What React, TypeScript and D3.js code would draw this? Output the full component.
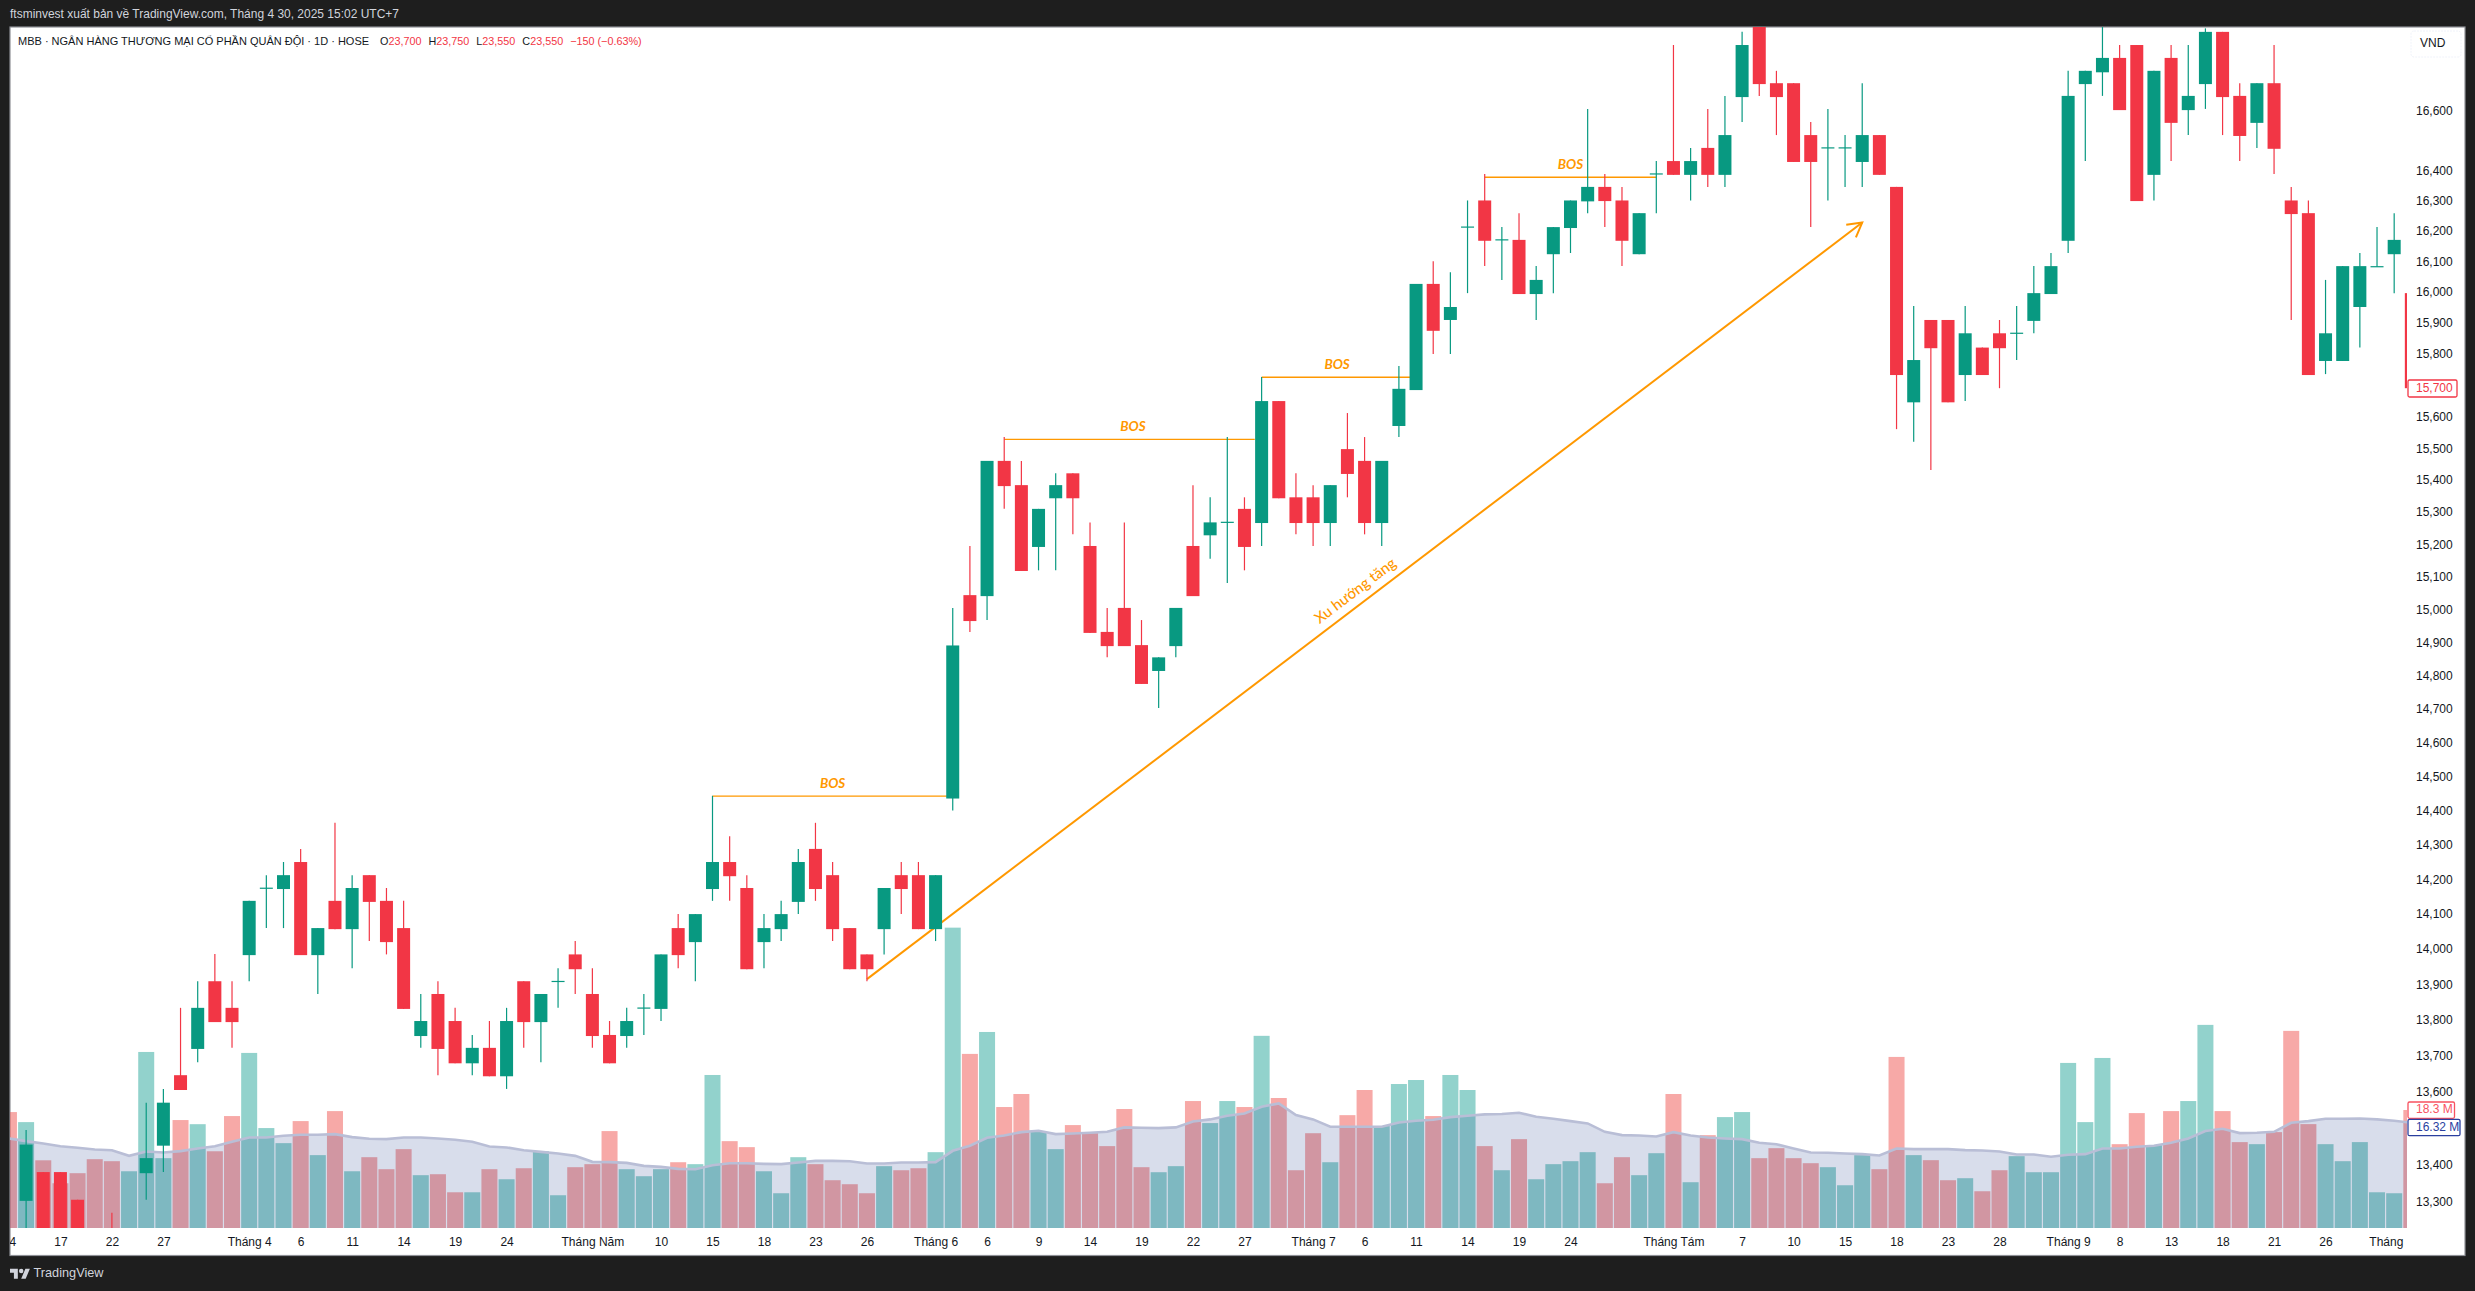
// App.tsx - MBB daily candles with volume pane
import React, { useEffect, useRef } from 'react';
import * as d3 from 'd3';

const opens = [
  13180, 13302, 13380, 13380, 13305, 13150, 13180, 13150, 13377, 13452,
  13646, 13719, 13909, 13834, 13983, 14175, 14172, 14250, 13983, 14138,
  14057, 14212, 14138, 14060, 13755, 13873, 13797, 13679, 13722, 13643,
  13909, 13794, 13909, 13985, 13873, 13758, 13755, 13834, 13831, 14060,
  14020, 14172, 14250, 14175, 14020, 14057, 14135, 14288, 14212, 14060,
  13985, 14057, 14212, 14212, 14057, 14435, 15044, 15041, 15460, 15384,
  15192, 15343, 15421, 15195, 14932, 15005, 14892, 14814, 14889, 15195,
  15228, 15268, 15310, 15266, 15649, 15346, 15346, 15266, 15497, 15460,
  15266, 15570, 15684, 16026, 15909, 16212, 16300, 16170, 16170, 15993,
  16123, 16209, 16297, 16345, 16300, 16123, 16388, 16431, 16385, 16475,
  16385, 16646, 16900, 16693, 16693, 16518, 16475, 16475, 16428, 16518,
  16345, 15645, 15909, 15909, 15732, 15820, 15866, 15866, 15906, 15993,
  16167, 16690, 16730, 16779, 16823, 16385, 16779, 16602, 16690, 16868,
  16650, 16559, 16693, 16300, 16258, 15777, 15777, 15951, 16082, 16123,
  15996,
];
const highs = [
  13200, 13495, 13380, 13380, 13305, 13180, 13270, 13190, 13570, 13608,
  13834, 13909, 13986, 13909, 14138, 14212, 14250, 14288, 14060, 14364,
  14212, 14212, 14175, 14138, 13873, 13909, 13834, 13758, 13797, 13834,
  13909, 13873, 13946, 14023, 13946, 13797, 13834, 13873, 13985, 14100,
  14100, 14443, 14325, 14212, 14100, 14138, 14288, 14364, 14250, 14060,
  13985, 14175, 14250, 14250, 14212, 15005, 15195, 15460, 15535, 15460,
  15310, 15421, 15421, 15268, 15005, 15268, 14968, 14855, 15005, 15384,
  15346, 15535, 15346, 15726, 15649, 15421, 15384, 15384, 15611, 15535,
  15460, 15761, 16026, 16100, 16064, 16300, 16388, 16212, 16258, 16084,
  16212, 16300, 16606, 16388, 16345, 16258, 16431, 16823, 16475, 16606,
  16650, 16868, 16950, 16735, 16693, 16562, 16606, 16518, 16693, 16518,
  16345, 15954, 15909, 15909, 15954, 15820, 15909, 15954, 16084, 16127,
  16735, 16735, 16900, 16823, 16823, 16735, 16823, 16823, 16880, 16868,
  16693, 16693, 16823, 16345, 16300, 16039, 16084, 16127, 16212, 16258,
  15996,
];
const lows = [
  13100, 13200, 13100, 13100, 13100, 13100, 13100, 13120, 13305, 13380,
  13605, 13682, 13794, 13722, 13909, 14060, 14060, 13983, 13873, 14057,
  13946, 14023, 13985, 13831, 13722, 13646, 13679, 13646, 13643, 13608,
  13722, 13682, 13834, 13873, 13722, 13679, 13722, 13758, 13797, 13946,
  13909, 14138, 14138, 13943, 13946, 14023, 14100, 14138, 14023, 13943,
  13909, 13985, 14100, 14057, 14023, 14400, 14932, 14968, 15310, 15118,
  15120, 15120, 15231, 14929, 14855, 14889, 14775, 14703, 14855, 15041,
  15156, 15081, 15120, 15195, 15343, 15231, 15195, 15195, 15346, 15231,
  15195, 15535, 15684, 15799, 15799, 15996, 16084, 16039, 15993, 15909,
  15996, 16127, 16258, 16212, 16084, 16123, 16258, 16385, 16300, 16345,
  16345, 16562, 16650, 16518, 16428, 16212, 16300, 16345, 16345, 16385,
  15560, 15520, 15431, 15645, 15649, 15732, 15690, 15780, 15866, 15993,
  16127, 16431, 16650, 16602, 16298, 16300, 16431, 16518, 16606, 16518,
  16431, 16475, 16388, 15909, 15732, 15735, 15777, 15820, 16082, 15996,
  15690,
];
const closes = [
  13120, 13455, 13150, 13150, 13150, 13120, 13120, 13170, 13418, 13570,
  13605, 13834, 13794, 13794, 14138, 14176, 14212, 13983, 14060, 14057,
  14175, 14135, 14020, 13831, 13797, 13719, 13679, 13722, 13643, 13797,
  13794, 13873, 13910, 13943, 13755, 13679, 13797, 13835, 13985, 13983,
  14100, 14250, 14209, 13943, 14060, 14100, 14250, 14172, 14057, 13943,
  13943, 14175, 14172, 14057, 14212, 14891, 14965, 15460, 15381, 15118,
  15310, 15384, 15343, 14929, 14889, 14889, 14775, 14855, 15005, 15041,
  15268, 15270, 15192, 15649, 15343, 15266, 15266, 15384, 15419, 15266,
  15460, 15688, 16026, 15874, 15951, 16214, 16167, 16172, 15993, 16039,
  16212, 16300, 16345, 16298, 16167, 16258, 16390, 16385, 16431, 16385,
  16518, 16823, 16690, 16646, 16428, 16428, 16477, 16477, 16518, 16385,
  15732, 15780, 15818, 15645, 15866, 15732, 15818, 15868, 15996, 16084,
  16650, 16735, 16779, 16602, 16298, 16735, 16559, 16650, 16868, 16646,
  16515, 16693, 16472, 16255, 15732, 15866, 16084, 16084, 16084, 16170,
  15690,
];
// volume, millions of shares
const volumes = [
  17.98, 16.42, 10.5, 6.94, 8.5, 10.67, 10.36, 8.8, 27.3, 10.83,
  16.74, 16.1, 11.9, 17.36, 27.15, 15.5, 13.16, 16.58, 11.3, 18.13,
  8.8, 10.98, 9.12, 12.23, 8.19, 8.34, 5.54, 5.54, 9.12, 7.56,
  9.27, 11.92, 5.08, 9.43, 9.9, 15.03, 9.12, 8.03, 9.12, 10.2,
  9.9, 23.73, 13.47, 12.54, 8.8, 5.39, 10.98, 9.9, 7.41, 6.79,
  5.39, 9.59, 8.96, 9.27, 11.76, 46.58, 27.0, 30.4, 18.76, 20.78,
  15.03, 12.23, 15.96, 14.7, 12.7, 18.45, 9.43, 8.65, 9.59, 19.69,
  16.27, 19.69, 18.76, 29.8, 20.16, 8.96, 14.7, 10.2, 17.5, 21.4,
  15.8, 22.33, 22.95, 17.36, 23.73, 21.4, 12.7, 8.96, 13.78, 7.56,
  9.9, 10.36, 11.76, 6.94, 10.98, 8.19, 11.6, 20.78, 7.1, 14.4,
  17.2, 17.98, 10.83, 12.38, 10.83, 10.05, 9.43, 6.63, 11.3, 9.12,
  26.53, 11.3, 10.52, 7.41, 7.72, 5.7, 8.96, 11.14, 8.65, 8.65,
  25.6, 16.42, 26.37, 13.0, 17.82, 12.85, 18.13, 19.69, 31.5, 18.13,
  13.32, 13.0, 14.87, 30.57, 16.11, 13.0, 10.36, 13.32, 5.54, 5.39,
  18.3,
];
const volumeMA = [
  13.89, 13.47, 13.11, 12.69, 12.44, 12.18, 12.07, 11.19, 11.87, 11.71,
  11.92, 12.33, 12.69, 13.37, 14.04, 14.04, 14.3, 14.46, 14.46, 14.56,
  14.09, 13.83, 13.78, 14.04, 14.04, 13.89, 13.68, 13.37, 12.64, 12.49,
  12.07, 11.81, 11.55, 11.19, 10.26, 10.21, 10.1, 9.64, 9.48, 9.17,
  9.12, 9.74, 10.05, 10.05, 9.95, 9.9, 10.16, 10.41, 10.41, 10.36,
  10.0, 10.0, 10.16, 10.16, 10.21, 11.97, 12.75, 13.99, 14.35, 14.87,
  15.08, 14.56, 14.66, 14.77, 14.92, 15.6, 15.54, 15.49, 15.6, 16.53,
  16.84, 17.41, 17.77, 18.81, 19.33, 17.51, 16.84, 15.7, 15.7, 15.7,
  15.7, 16.37, 16.63, 16.79, 17.2, 17.41, 17.62, 17.67, 17.88, 17.25,
  16.94, 16.58, 16.22, 14.92, 14.4, 14.35, 14.2, 14.87, 14.35, 14.04,
  13.89, 13.78, 13.21, 13.0, 12.33, 11.71, 11.66, 11.55, 11.45, 11.24,
  12.33, 12.23, 12.23, 12.23, 12.07, 12.02, 11.87, 11.4, 11.4, 11.04,
  11.35, 11.45, 12.33, 12.33, 12.59, 12.75, 13.21, 13.89, 15.03, 15.39,
  14.72, 14.77, 14.92, 16.32, 16.58, 16.94, 16.94, 16.99, 16.84, 16.63,
  16.32,
];

const priceTicks = [
  16600, 16400, 16300, 16200, 16100, 16000, 15900, 15800, 15600, 15500, 15400, 15300,
  15200, 15100, 15000, 14900, 14800, 14700, 14600, 14500, 14400, 14300, 14200, 14100,
  14000, 13900, 13800, 13700, 13600, 13400, 13300,
];
const timeTickBars = [
  0, 3, 6, 9, 14, 17, 20, 23, 26, 29, 34, 38, 41, 44, 47, 50, 54, 57, 60, 63, 66, 69, 72,
  76, 79, 82, 85, 88, 91, 97, 101, 104, 107, 110, 113, 116, 120, 123, 126, 129, 132, 135, 139,
];
const timeTickLabels = [
  '14', '17', '22', '27', 'Tháng 4', '6', '11', '14', '19', '24', 'Tháng Năm', '10', '15', '18', '23',
  '26', 'Tháng 6', '6', '9', '14', '19', '22', '27', 'Tháng 7', '6', '11', '14', '19', '24', 'Tháng Tám',
  '7', '10', '15', '18', '23', '28', 'Tháng 9', '8', '13', '18', '21', '26', 'Tháng 10',
];

// break of structure levels: start bar, end bar, price, bar of the label
const bosStart = [41, 58, 73, 86];
const bosEnd = [54.66, 72.6, 81.65, 96];
const bosPrice = [14442, 15528, 15725, 16377];
const bosLabelBar = [48, 65.5, 77.4, 91];

const trendBars = [50, 108];
const trendPrices = [13915, 16227];

// legend: letter, value
const ohlcLetters = ['O', 'H', 'L', 'C'];
const ohlcValues = ['23,700', '23,750', '23,550', '23,550'];

const WIDTH = 2475, HEIGHT = 1291;
const GREEN = '#089981', RED = '#f23645', ORANGE = '#ff9800';
const FONT = '"Liberation Sans", Arial, sans-serif';
const plot = { left: 10, right: 2407, top: 27, bottom: 1228, frameRight: 2465, frameBottom: 1255.5 };
const BAR_STEP = 17.16, BAR_ZERO = 8.94;

const App: React.FC = () => {
  const svgRef = useRef<SVGSVGElement>(null);

  useEffect(() => {
    if (!svgRef.current) return;
    const svg = d3.select(svgRef.current);
    svg.selectAll('*').remove();

    const x = d3.scaleLinear().domain([0, 140]).range([BAR_ZERO, BAR_ZERO + 140 * BAR_STEP]);
    const y = d3.scaleLog().domain([13300, 16600]).range([1201.6, 110.7]);
    const v = d3.scaleLinear().domain([0, 18.3]).range([plot.bottom, 1110]);

    // page
    svg.append('rect').attr('width', WIDTH).attr('height', HEIGHT).attr('fill', '#1e1e1e');
    svg.append('rect')
      .attr('x', plot.left).attr('y', plot.top)
      .attr('width', plot.frameRight - plot.left).attr('height', plot.frameBottom - plot.top)
      .attr('fill', '#fff').attr('stroke', '#8f9197').attr('stroke-width', 1.2);

    const defs = svg.append('defs');
    defs.append('clipPath').attr('id', 'pane').append('rect')
      .attr('x', plot.left).attr('y', plot.top)
      .attr('width', plot.right - plot.left).attr('height', plot.bottom - plot.top);
    defs.append('clipPath').attr('id', 'timeAxis').append('rect')
      .attr('x', plot.left).attr('y', plot.bottom)
      .attr('width', plot.right - plot.left).attr('height', plot.frameBottom - plot.bottom);

    const pane = svg.append('g').attr('clip-path', 'url(#pane)');
    const bars = d3.range(opens.length);
    const isUp = (i: number) => closes[i] >= opens[i];

    // volume
    pane.append('g').selectAll('rect').data(bars).join('rect')
      .attr('x', i => x(i) - 8)
      .attr('width', 16)
      .attr('y', i => v(volumes[i]))
      .attr('height', i => plot.bottom - v(volumes[i]))
      .attr('fill', i => (isUp(i) ? '#26a69a' : '#ef5350'))
      .attr('fill-opacity', 0.5);

    const maArea = d3.area<number>().x(i => x(i)).y0(plot.bottom).y1(i => v(volumeMA[i]));
    const maLine = d3.line<number>().x(i => x(i)).y(i => v(volumeMA[i]));
    pane.append('path').attr('d', maArea(bars)).attr('fill', '#25408f').attr('fill-opacity', 0.18);
    pane.append('path').attr('d', maLine(bars)).attr('fill', 'none')
      .attr('stroke', '#b9bed6').attr('stroke-width', 2.6);

    // drawings sit under the candles
    bosStart.forEach((b, k) => {
      pane.append('line')
        .attr('x1', x(b)).attr('x2', x(bosEnd[k]))
        .attr('y1', y(bosPrice[k])).attr('y2', y(bosPrice[k]))
        .attr('stroke', ORANGE).attr('stroke-width', 1.3);
    });
    defs.append('marker').attr('id', 'arrow')
      .attr('viewBox', '-18 -12 20 24').attr('markerUnits', 'userSpaceOnUse')
      .attr('markerWidth', 20).attr('markerHeight', 24)
      .attr('refX', 0).attr('refY', 0).attr('orient', 'auto')
      .append('path').attr('d', 'M-14,-8 L0,0 L-14,8')
      .attr('fill', 'none').attr('stroke', ORANGE).attr('stroke-width', 2);
    pane.append('line')
      .attr('x1', x(trendBars[0])).attr('y1', y(trendPrices[0]))
      .attr('x2', x(trendBars[1])).attr('y2', y(trendPrices[1]))
      .attr('stroke', ORANGE).attr('stroke-width', 2)
      .attr('marker-end', 'url(#arrow)');

    // candles
    const candles = pane.append('g');
    candles.selectAll('line').data(bars).join('line')
      .attr('x1', i => x(i)).attr('x2', i => x(i))
      .attr('y1', i => y(highs[i])).attr('y2', i => y(lows[i]))
      .attr('stroke', i => (isUp(i) ? GREEN : RED)).attr('stroke-width', 1.2);
    candles.selectAll('rect').data(bars).join('rect')
      .attr('x', i => x(i) - 6.5)
      .attr('width', 13)
      .attr('y', i => y(Math.max(opens[i], closes[i])))
      .attr('height', i => Math.max(1.2, Math.abs(y(opens[i]) - y(closes[i]))))
      .attr('fill', i => (isUp(i) ? GREEN : RED));

    // drawing labels
    bosLabelBar.forEach((b, k) => {
      svg.append('text').attr('x', x(b)).attr('y', y(bosPrice[k]) - 11.5)
        .attr('text-anchor', 'middle').attr('dominant-baseline', 'middle')
        .attr('font-family', 'Lato, sans-serif').attr('font-size', 13.5)
        .attr('font-weight', 700).attr('font-style', 'italic')
        .attr('fill', ORANGE).text('BOS');
    });
    const tx = x(78.5), ty = 591.7;
    const angle = Math.atan2(
      y(trendPrices[1]) - y(trendPrices[0]),
      x(trendBars[1]) - x(trendBars[0]),
    ) * 180 / Math.PI;
    svg.append('text').attr('transform', `translate(${tx},${ty}) rotate(${angle})`)
      .attr('text-anchor', 'middle').attr('dominant-baseline', 'middle')
      .attr('font-family', 'Lato, sans-serif').attr('font-size', 15)
      .attr('font-weight', 500).attr('fill', ORANGE).text('Xu hướng tăng');

    // axes
    const priceAxis = svg.append('g').attr('transform', `translate(${plot.right},0)`)
      .call(d3.axisRight(y).tickValues(priceTicks).tickFormat(d3.format(',') as any).tickSize(0).tickPadding(9));
    const timeAxis = svg.append('g').attr('clip-path', 'url(#timeAxis)').append('g')
      .attr('transform', `translate(0,${plot.bottom})`)
      .call(d3.axisBottom(x).tickValues(timeTickBars)
        .tickFormat((_, k) => timeTickLabels[k]).tickSize(0).tickPadding(9));
    [priceAxis, timeAxis].forEach(a => {
      a.select('.domain').remove();
      a.selectAll('text').attr('font-family', FONT).attr('font-size', 12).attr('fill', '#131722');
    });

    // labels on the price scale
    const tag = (value: string, top: number, w: number, h: number, color: string) => {
      svg.append('rect').attr('x', plot.right + 1).attr('y', top).attr('width', w).attr('height', h)
        .attr('rx', 1.5).attr('fill', '#fff').attr('stroke', color).attr('stroke-width', 1.3);
      svg.append('text').attr('x', plot.right + 9).attr('y', top + h / 2)
        .attr('dominant-baseline', 'middle').attr('font-family', FONT).attr('font-size', 12)
        .attr('fill', color).text(value);
    };
    tag('15,700', 380, 49, 17, RED);
    tag('18.3 M', 1102, 46.5, 16.3, '#f7525f');
    tag('16.32 M', 1119.3, 52, 16.4, '#2a3f9f');

    svg.append('rect').attr('x', 2411).attr('y', 31).attr('width', 50).attr('height', 26).attr('rx', 3)
      .attr('fill', 'none').attr('stroke', '#f0f3fa').attr('stroke-dasharray', '2 1');
    svg.append('text').attr('x', 2420).attr('y', 44).attr('dominant-baseline', 'middle')
      .attr('font-family', FONT).attr('font-size', 12).attr('fill', '#131722').text('VND');

    // header
    const label = (s: string, px: number, py: number, color: string, width?: number, size = 12) => {
      const t = svg.append('text').attr('x', px).attr('y', py).attr('dominant-baseline', 'middle')
        .attr('font-family', FONT).attr('font-size', size).attr('fill', color).text(s);
      if (width) t.attr('textLength', width).attr('lengthAdjust', 'spacingAndGlyphs');
    };
    label('ftsminvest xuất bản về TradingView.com, Tháng 4 30, 2025 15:02 UTC+7', 10, 15, '#d1d4dc', 389);
    label('MBB · NGÂN HÀNG THƯƠNG MẠI CỔ PHẦN QUÂN ĐỘI · 1D · HOSE', 18, 42, '#131722', undefined, 11);

    // one text element, so letter and value stay tight together
    const legend = svg.append('text').attr('x', 380).attr('y', 42).attr('dominant-baseline', 'middle')
      .attr('font-family', FONT).attr('font-size', 10.8);
    ohlcLetters.forEach((l, k) => {
      legend.append('tspan').attr('fill', '#131722').attr('dx', k ? 7 : 0).text(l);
      legend.append('tspan').attr('fill', RED).text(ohlcValues[k]);
    });
    legend.append('tspan').attr('fill', RED).attr('dx', 7).text('−150 (−0.63%)');

    // footer
    const logo = svg.append('g').attr('transform', 'translate(10,1266.5) scale(0.56)').attr('fill', '#d1d4dc');
    logo.append('path').attr('d', 'M14 22H7V11H0V4h14v18zM28 22h-8l7.5-18h8L28 22z');
    logo.append('circle').attr('cx', 20).attr('cy', 8).attr('r', 4);
    label('TradingView', 33.5, 1273, '#d1d4dc', 70, 13.5);
  }, []);

  return <svg ref={svgRef} width={WIDTH} height={HEIGHT} style={{ position: 'absolute', left: 0, top: 0, display: 'block' }} />;
};

export default App;
